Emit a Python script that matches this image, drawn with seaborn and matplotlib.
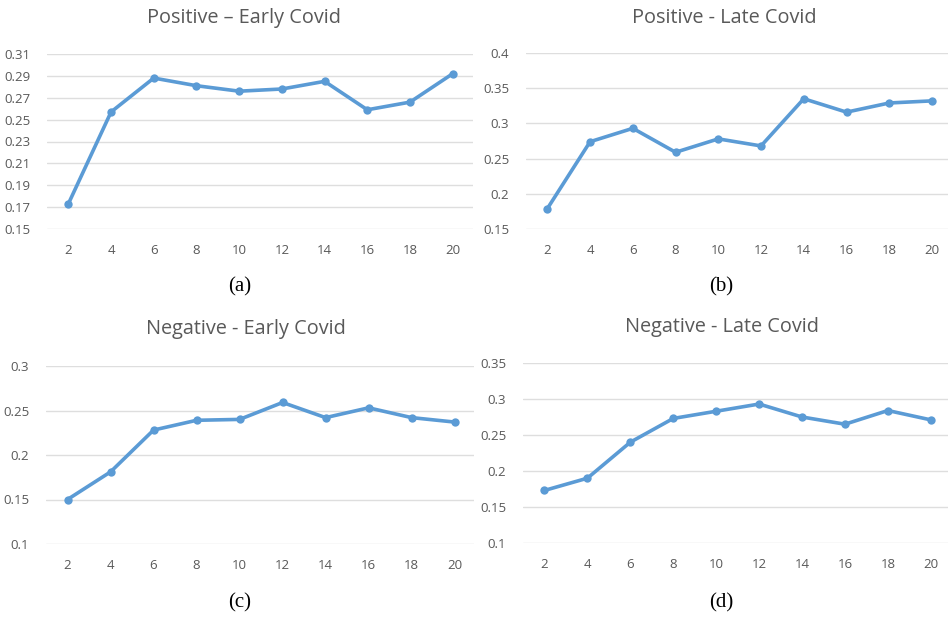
import matplotlib
matplotlib.use("Agg")
import matplotlib.pyplot as plt
from matplotlib.ticker import FixedLocator, FuncFormatter
import seaborn as sns
import pandas as pd

# Number of topics and coherence scores per corpus
k_values = [2, 4, 6, 8, 10, 12, 14, 16, 18, 20]
pos_early = [0.173, 0.257, 0.288, 0.281, 0.276, 0.278, 0.285, 0.259, 0.266, 0.292]
pos_late = [0.179, 0.274, 0.293, 0.259, 0.278, 0.268, 0.335, 0.316, 0.329, 0.332]
neg_early = [0.150, 0.181, 0.228, 0.239, 0.240, 0.259, 0.242, 0.253, 0.242, 0.237]
neg_late = [0.173, 0.190, 0.240, 0.273, 0.283, 0.293, 0.275, 0.265, 0.284, 0.271]

titles = ["Positive \u2013 Early Covid", "Positive - Late Covid",
          "Negative - Early Covid", "Negative - Late Covid"]
captions = ["(a)", "(b)", "(c)", "(d)"]

yticks_a = [0.15, 0.17, 0.19, 0.21, 0.23, 0.25, 0.27, 0.29, 0.31]
yticks_b = [0.15, 0.2, 0.25, 0.3, 0.35, 0.4]
yticks_c = [0.1, 0.15, 0.2, 0.25, 0.3]
yticks_d = [0.1, 0.15, 0.2, 0.25, 0.3, 0.35]

sns.set_theme(style="white")
plt.rcParams["font.family"] = ["Open Sans", "DejaVu Sans"]

W, H = 948, 617
fig = plt.figure(figsize=(W / 100, H / 100), dpi=100)

LINE = "#5b9bd5"
GRID = "#dedede"
TEXT = "#595959"


def add_axes_px(left, top, right, bottom):
    return fig.add_axes([left / W, 1 - bottom / H, (right - left) / W, (bottom - top) / H])


panels = [
    # series, yticks, axes box (left, top, right, bottom) in px, xlim, title pos, caption pos
    (pos_early, yticks_a, (47, 54, 473, 229), (1, 20.95), (244, 18), (240, 287)),
    (pos_late, yticks_b, (526, 53, 948, 229), (1, 20.75), (724, 18), (721, 287)),
    (neg_early, yticks_c, (46, 366, 474, 544), (1, 20.9), (246, 329), (240, 603)),
    (neg_late, yticks_d, (523, 363, 948, 543), (1, 20.8), (722, 327), (721, 603)),
]

for i, (vals, yt, box, xlim, tpos, cpos) in enumerate(panels):
    ax = add_axes_px(*box)
    df = pd.DataFrame({"k": k_values, "score": vals})
    sns.lineplot(data=df, x="k", y="score", ax=ax, color=LINE, linewidth=2.6,
                 marker="o", markersize=6, markeredgewidth=0)
    ax.set_xlim(*xlim)
    ax.set_ylim(yt[0], yt[-1])
    ax.yaxis.set_major_locator(FixedLocator(yt))
    ax.xaxis.set_major_locator(FixedLocator(k_values))
    ax.yaxis.set_major_formatter(FuncFormatter(lambda v, p: f"{v:g}"))
    ax.set_xlabel("")
    ax.set_ylabel("")
    for s in ax.spines.values():
        s.set_visible(False)
    ax.grid(axis="y", color=GRID, linewidth=1.0)
    ax.grid(axis="x", visible=False)
    ax.set_axisbelow(True)
    ax.tick_params(axis="y", length=0, pad=12, labelsize=9.5, labelcolor=TEXT)
    ax.tick_params(axis="x", length=0, pad=11, labelsize=9.5, labelcolor=TEXT)
    ax.patch.set_alpha(0)

    fig.text(tpos[0] / W, 1 - tpos[1] / H, titles[i], ha="center", va="center",
             fontsize=14.3, color=TEXT)
    fig.text(cpos[0] / W, 1 - cpos[1] / H, captions[i], ha="center", va="center",
             fontsize=15, color="black", family=["Liberation Serif", "DejaVu Serif"])

fig.savefig("out.png", dpi=100)
